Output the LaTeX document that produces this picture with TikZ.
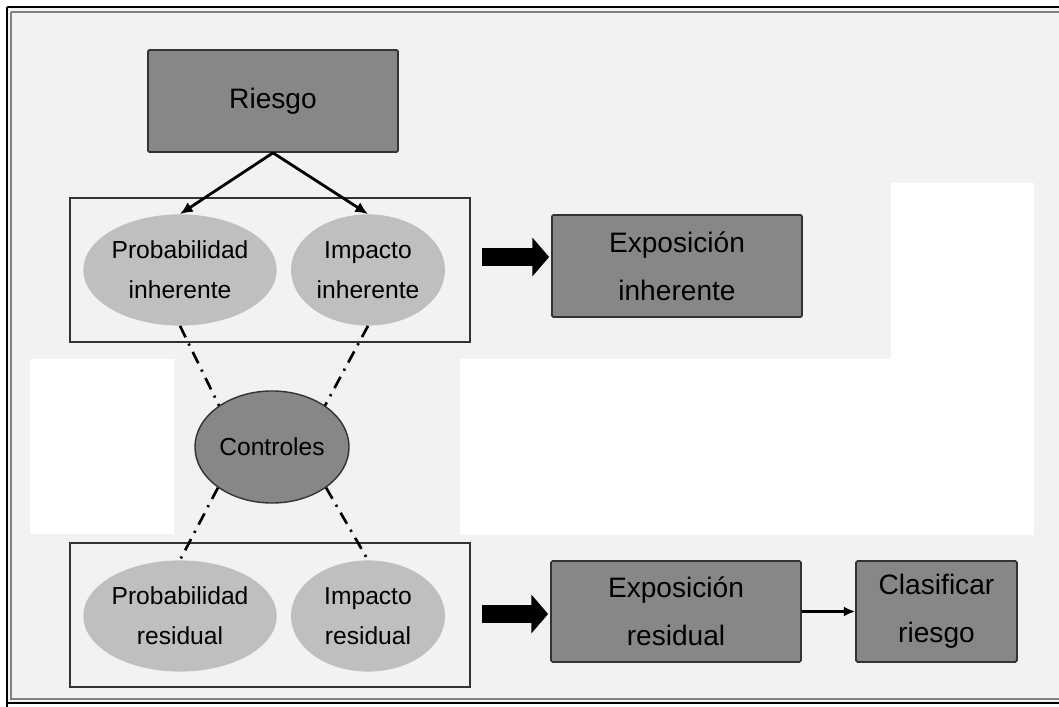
\documentclass[tikz,border=0pt]{standalone}
\usepackage{fontspec}
\setmainfont{Liberation Sans}
\usetikzlibrary{arrows.meta, shapes.geometric}
\definecolor{bggray}{HTML}{F2F2F2}
\definecolor{boxgray}{HTML}{878787}
\definecolor{ovalgray}{HTML}{BFBFBF}
\definecolor{edgegray}{HTML}{333333}
\tikzset{
  darkbox/.style={draw=edgegray, line width=1.2pt, fill=boxgray, rounded corners=1pt,
    align=center, inner sep=0pt, font=\fontsize{20}{34}\selectfont},
  lightoval/.style={ellipse, fill=ovalgray, minimum width=3.85cm, minimum height=2.78cm,
    inner sep=0pt, align=center, font=\fontsize{17.5}{28.5}\selectfont},
  groupframe/.style={draw=edgegray, line width=2pt, minimum width=10cm, minimum height=3.6cm,
    inner sep=0pt},
  dashdotline/.style={line width=1.9pt, dash pattern=on 9pt off 5pt on 1.6pt off 5pt},
  bigarrow/.style={line width=0.45cm, -{Triangle[length=0.42cm, width=0.95cm]},
    shorten <=0.27cm, shorten >=0.05cm},
}
\begin{document}
\begin{tikzpicture}[x=0.025cm, y=-0.025cm]
\useasboundingbox (0,0) rectangle (1059,707);
\fill[white] (0,0) rectangle (1059,707);
\fill[bggray] (7,7) rectangle (1059,703);
\fill[white] (30,359) rectangle (174,534);
\fill[white] (891,183) -- (1034,183) -- (1034,535) -- (460,535) -- (460,359) -- (891,359) -- cycle;
\draw[black, line width=1pt] (7,7) -- (1062,7);
\draw[black, line width=1pt] (7,7) -- (7,710);
\draw[gray, line width=1.6pt] (11,12) -- (1062,12);
\draw[gray, line width=1.6pt] (11,12) -- (11,699) -- (1062,699);
\draw[black, line width=1pt] (7,703) -- (1062,703);

\node[groupframe] (upframe) at (270,270) {};
\node[groupframe] (lowframe) at (270,615) {};

\node[darkbox, minimum width=6.25cm, minimum height=2.55cm] (riesgo) at (273,101) {Riesgo};
\node[lightoval] (probinh) at (180,270) {Probabilidad\\inherente};
\node[lightoval] (impinh) at (368,270) {Impacto\\inherente};
\node[ellipse, draw=edgegray, line width=1pt, fill=boxgray, minimum width=3.85cm, minimum height=2.8cm,
  inner sep=0pt, font=\fontsize{17.5}{28.5}\selectfont] (controles) at (272,447) {Controles};
\node[lightoval] (probres) at (180,616) {Probabilidad\\residual};
\node[lightoval] (impres) at (368,616) {Impacto\\residual};

\node[darkbox, minimum width=6.25cm, minimum height=2.55cm] (expinh) at (677,266) {Exposición\\inherente};
\node[darkbox, minimum width=6.25cm, minimum height=2.52cm] (expres) at (676,611.5) {Exposición\\residual};
\node[darkbox, minimum width=4.02cm, minimum height=2.52cm] (clasif) at (936.5,611.5) {Clasificar\\riesgo};

\draw[line width=2pt, -{Latex[length=9pt, width=8pt]}] (riesgo.south) -- (probinh.north);
\draw[line width=2pt, -{Latex[length=9pt, width=8pt]}] (riesgo.south) -- (impinh.north);

\draw[dashdotline] (probinh.south) -- (controles.142);
\draw[dashdotline] (impinh.south) -- (controles.38);
\draw[dashdotline] (controles.217) -- (probres.north);
\draw[dashdotline] (controles.323) -- (impres.north);

\draw[bigarrow] (upframe.east |- 0,257) -- (expinh.west |- 0,257);
\draw[bigarrow] (lowframe.east |- 0,614) -- (expres.west |- 0,614);
\draw[line width=1.8pt, -{Latex[length=8pt, width=7pt]}] (expres.east) -- (clasif.west);
\end{tikzpicture}
\end{document}
